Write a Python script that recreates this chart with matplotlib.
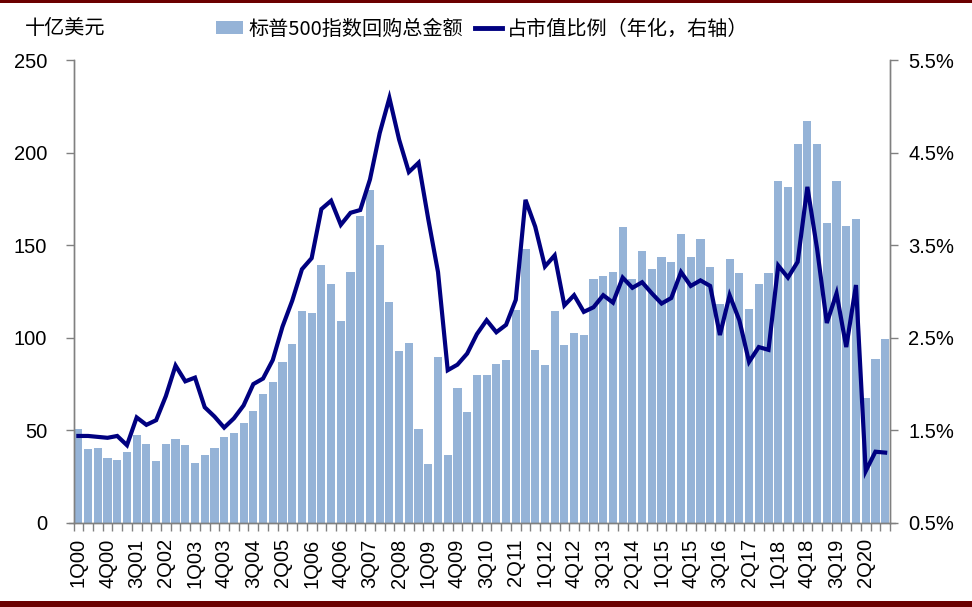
import matplotlib
matplotlib.use('Agg')
import matplotlib.pyplot as plt
from matplotlib.patches import Patch, Rectangle
from matplotlib.lines import Line2D
from matplotlib.ticker import FuncFormatter, FixedLocator
import numpy as np

# quarters 1Q00 .. 4Q20
quarters = ['{}Q{:02d}'.format(q, y) for y in range(0, 21) for q in range(1, 5)]

# S&P 500 buyback total, $bn
buyback = [50.8, 39.9, 40.3, 34.9,
           34.2, 38.3, 47.4, 42.9,
           33.3, 42.8, 45.4, 42.0,
           32.6, 36.5, 40.4, 46.5,
           48.5, 54.2, 60.3, 69.6,
           76.2, 86.9, 96.6, 114.5,
           113.4, 139.4, 129.2, 109.3,
           135.3, 165.5, 180.0, 149.9,
           119.3, 93.1, 97.0, 50.6,
           32.0, 89.4, 36.9, 72.8,
           60.1, 80.0, 80.0, 86.0,
           88.0, 115.0, 148.1, 93.2,
           85.5, 114.6, 95.9, 102.4,
           101.7, 131.6, 133.5, 135.7,
           159.6, 131.9, 147.0, 137.2,
           143.4, 140.9, 155.9, 143.6,
           153.2, 138.0, 118.0, 142.8,
           135.1, 115.8, 129.3, 134.9,
           184.5, 181.3, 204.7, 217.3,
           204.9, 162.2, 184.5, 160.1,
           164.4, 67.6, 88.3, 99.3]

# share of market cap, annualised, %
mktcap_pct = [1.44, 1.44, 1.43, 1.42,
              1.44, 1.34, 1.64, 1.56,
              1.61, 1.87, 2.20, 2.03,
              2.07, 1.75, 1.65, 1.53,
              1.63, 1.77, 2.00, 2.06,
              2.26, 2.62, 2.90, 3.24,
              3.36, 3.89, 3.98, 3.72,
              3.85, 3.88, 4.21, 4.71,
              5.09, 4.64, 4.29, 4.39,
              3.78, 3.21, 2.15, 2.21,
              2.33, 2.54, 2.69, 2.56,
              2.64, 2.91, 3.99, 3.70,
              3.27, 3.39, 2.85, 2.96,
              2.78, 2.83, 2.96, 2.88,
              3.15, 3.04, 3.10, 2.98,
              2.87, 2.93, 3.21, 3.06,
              3.12, 3.06, 2.53, 2.96,
              2.69, 2.24, 2.40, 2.37,
              3.28, 3.15, 3.32, 4.13,
              3.46, 2.66, 2.98, 2.40,
              3.07, 1.06, 1.27, 1.26]

left_ticks = [0, 50, 100, 150, 200, 250]
right_ticks = [0.5, 1.5, 2.5, 3.5, 4.5, 5.5]

BAR_COLOR = '#95B3D7'
LINE_COLOR = '#000080'
AXIS_COLOR = '#808080'
TICK_FONT = 'Liberation Sans'

plt.rcParams['font.family'] = ['Noto Sans CJK SC', 'DejaVu Sans']

fig = plt.figure(figsize=(9.72, 6.07), dpi=100)
ax = fig.add_axes([73.5 / 972, 1 - 523 / 607, (890 - 73.5) / 972, (523 - 60) / 607])
ax2 = ax.twinx()

x = np.arange(len(quarters))
ax.bar(x, buyback, width=0.84, color=BAR_COLOR, zorder=2)
ax2.plot(x, mktcap_pct, color=LINE_COLOR, lw=3.0, solid_joinstyle='miter', zorder=3)

ax.set_xlim(-0.5, len(quarters) - 0.5)
ax.set_ylim(0, 250)
ax2.set_ylim(0.5, 5.5)

# spines
for a in (ax, ax2):
    a.spines['top'].set_visible(False)
    for s in ('left', 'right', 'bottom'):
        a.spines[s].set_color(AXIS_COLOR)
        a.spines[s].set_linewidth(1.0)
ax.spines['bottom'].set_bounds(-1.0, len(quarters))

# x ticks: marks at every quarter boundary, labels every 3rd quarter
ax.xaxis.set_minor_locator(FixedLocator(np.arange(-0.5, len(quarters), 1.0)))
ax.set_xticks(x[::3])
ax.set_xticklabels(quarters[::3], rotation=90, fontsize=14.5, family=TICK_FONT)
ax.tick_params(axis='x', which='major', length=0, pad=11)
ax.tick_params(axis='x', which='minor', length=6, color=AXIS_COLOR, width=1)

ax.set_yticks(left_ticks)
ax.set_yticklabels([str(t) for t in left_ticks], fontsize=14.5, family=TICK_FONT)
ax.tick_params(axis='y', length=6, color=AXIS_COLOR, width=1, pad=13)

ax2.set_yticks(right_ticks)
ax2.yaxis.set_major_formatter(FuncFormatter(lambda v, p: '{:.1f}%'.format(v)))
for lbl in ax2.get_yticklabels():
    lbl.set_fontsize(14.5)
    lbl.set_family(TICK_FONT)
ax2.tick_params(axis='y', length=6, color=AXIS_COLOR, width=1, pad=7, labelsize=14.5)

# unit label + legend at the top
fig.text(25 / 972, 1 - 29 / 607, '十亿美元', fontsize=14.5, va='center', ha='left')
handles = [Patch(facecolor=BAR_COLOR, edgecolor='none'),
           Line2D([0], [0], color=LINE_COLOR, lw=3.5)]
labels = ['标普500指数回购总金额', '占市值比例（年化，右轴）']
fig.legend(handles, labels, loc='center left', bbox_to_anchor=(216 / 972, 1 - 29 / 607),
           ncol=2, frameon=False, fontsize=14.5, handlelength=1.35, handleheight=0.62,
           handletextpad=0.25, columnspacing=0.6, borderaxespad=0, borderpad=0)

# dark red rules at top and bottom of the figure
fig.add_artist(Rectangle((0, 1 - 3 / 607), 1, 3 / 607, transform=fig.transFigure,
                         color='#6B0000', lw=0))
fig.add_artist(Rectangle((0, 0), 1, 6 / 607, transform=fig.transFigure,
                         color='#6B0000', lw=0))

fig.savefig('out.png', dpi=100)
